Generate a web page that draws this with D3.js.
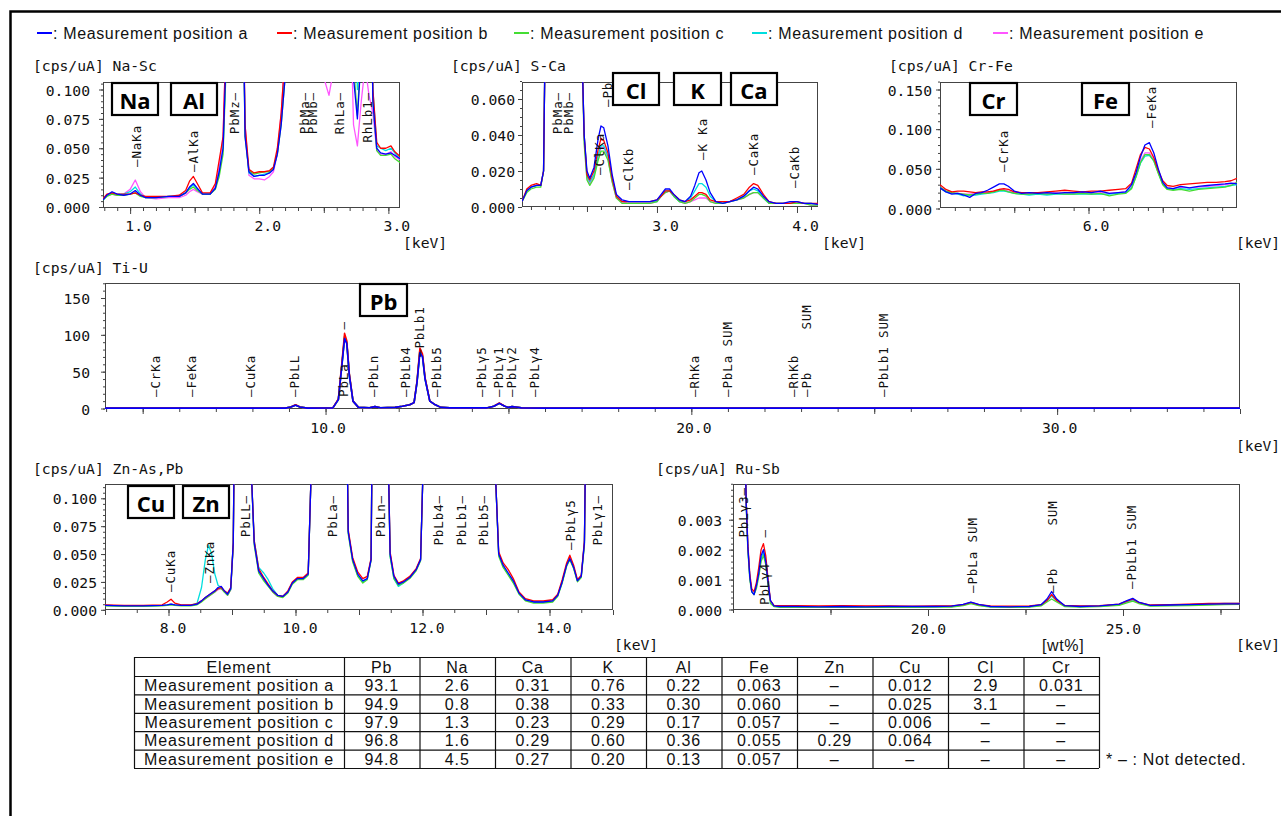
<!DOCTYPE html>
<html><head><meta charset="utf-8">
<script src="https://cdn.jsdelivr.net/npm/d3@7/dist/d3.min.js"></script>
<style>body{margin:0;background:#fff}svg{display:block}</style>
</head><body>
<svg id="c" width="1281" height="816"></svg>
<script>
// ---------------- DATA ----------------
const seriesKeys = ["a","b","c","d","e"];
const seriesLabels = ["Measurement position a","Measurement position b","Measurement position c","Measurement position d","Measurement position e"];
const seriesColors = ["#0000ff","#ff0000","#44dd33","#00dede","#ff55ff"];

// Na-Sc (keV, cps/uA)
const naX = [0.79,0.82,0.86,0.9,0.95,1.0,1.04,1.08,1.12,1.2,1.3,1.38,1.43,1.46,1.49,1.52,1.56,1.62,1.66,1.69,1.72,1.75,1.8,1.86,1.89,1.92,1.96,2.0,2.04,2.08,2.11,2.14,2.17,2.2,2.3,2.4,2.5,2.54,2.58,2.65,2.7,2.73,2.76,2.79,2.82,2.85,2.88,2.91,2.94,2.98,3.02,3.05,3.09];
const naA = [0.006,0.010,0.013,0.011,0.010,0.011,0.014,0.010,0.008,0.008,0.009,0.009,0.012,0.017,0.020,0.016,0.011,0.011,0.016,0.030,0.050,0.150,0.300,0.300,0.060,0.030,0.026,0.027,0.027,0.029,0.032,0.045,0.070,0.110,0.5,0.5,0.5,0.5,0.5,0.5,0.2,0.11,0.075,0.13,0.3,0.3,0.09,0.050,0.046,0.045,0.046,0.044,0.041];
const naB = [0.007,0.011,0.012,0.011,0.011,0.011,0.012,0.010,0.009,0.009,0.009,0.010,0.014,0.022,0.026,0.020,0.012,0.012,0.020,0.040,0.060,0.170,0.300,0.300,0.070,0.032,0.029,0.030,0.030,0.031,0.034,0.050,0.080,0.130,0.5,0.5,0.5,0.5,0.5,0.5,0.5,0.3,0.2,0.3,0.5,0.5,0.1,0.055,0.050,0.050,0.052,0.047,0.043];
const naC = [0.006,0.009,0.011,0.010,0.010,0.011,0.012,0.009,0.008,0.008,0.009,0.009,0.012,0.015,0.017,0.014,0.011,0.011,0.015,0.026,0.045,0.140,0.300,0.300,0.060,0.031,0.028,0.029,0.030,0.030,0.033,0.045,0.070,0.110,0.5,0.5,0.5,0.5,0.5,0.5,0.2,0.12,0.078,0.14,0.3,0.3,0.09,0.048,0.044,0.044,0.045,0.041,0.038];
const naD = [0.006,0.010,0.012,0.011,0.011,0.013,0.017,0.011,0.008,0.008,0.009,0.009,0.012,0.016,0.019,0.015,0.011,0.011,0.016,0.030,0.050,0.150,0.300,0.300,0.065,0.029,0.026,0.027,0.028,0.029,0.033,0.046,0.075,0.120,0.5,0.5,0.5,0.5,0.5,0.5,0.3,0.2,0.1,0.2,0.3,0.3,0.1,0.052,0.050,0.048,0.050,0.046,0.041];
const naE = [0.007,0.010,0.011,0.010,0.011,0.015,0.023,0.013,0.008,0.007,0.008,0.008,0.010,0.013,0.015,0.013,0.011,0.011,0.018,0.035,0.060,0.170,0.300,0.300,0.070,0.027,0.024,0.024,0.023,0.026,0.030,0.045,0.080,0.130,0.5,0.5,0.11,0.095,0.12,0.5,0.2,0.07,0.052,0.09,0.12,0.095,0.08,0.048,0.045,0.045,0.047,0.043,0.040];

// S-Ca
const scX = [2.036,2.07,2.1,2.14,2.17,2.19,2.21,2.3,2.4,2.46,2.48,2.5,2.52,2.55,2.58,2.6,2.62,2.65,2.68,2.71,2.75,2.8,2.85,2.9,2.95,3.0,3.03,3.06,3.09,3.12,3.16,3.2,3.24,3.27,3.3,3.32,3.35,3.38,3.42,3.47,3.52,3.57,3.62,3.66,3.69,3.72,3.76,3.8,3.85,3.9,3.95,4.0,4.05,4.1,4.15];
const scA = [0.003,0.009,0.011,0.012,0.012,0.020,0.150,0.5,0.5,0.100,0.040,0.020,0.016,0.022,0.038,0.045,0.044,0.034,0.018,0.007,0.004,0.003,0.003,0.003,0.003,0.004,0.007,0.010,0.010,0.007,0.004,0.003,0.006,0.012,0.019,0.020,0.015,0.008,0.003,0.002,0.003,0.004,0.006,0.009,0.011,0.010,0.006,0.003,0.002,0.002,0.003,0.003,0.002,0.002,0.0015];
const scB = [0.003,0.010,0.012,0.013,0.012,0.020,0.150,0.5,0.5,0.100,0.040,0.018,0.015,0.020,0.032,0.038,0.037,0.030,0.016,0.006,0.003,0.003,0.003,0.003,0.003,0.004,0.006,0.009,0.009,0.007,0.004,0.003,0.004,0.006,0.008,0.008,0.007,0.004,0.003,0.003,0.003,0.005,0.007,0.011,0.013,0.012,0.007,0.003,0.002,0.002,0.002,0.003,0.002,0.002,0.002];
const scC = [0.003,0.008,0.010,0.011,0.011,0.020,0.150,0.5,0.5,0.100,0.035,0.015,0.012,0.016,0.026,0.031,0.031,0.026,0.014,0.005,0.002,0.002,0.002,0.002,0.002,0.003,0.006,0.008,0.009,0.006,0.003,0.002,0.003,0.005,0.007,0.007,0.006,0.003,0.002,0.002,0.003,0.004,0.005,0.007,0.008,0.008,0.005,0.002,0.002,0.002,0.002,0.002,0.002,0.001,0.001];
const scD = [0.003,0.009,0.011,0.012,0.012,0.020,0.150,0.5,0.5,0.100,0.040,0.017,0.014,0.018,0.029,0.034,0.034,0.028,0.015,0.006,0.003,0.003,0.003,0.003,0.003,0.003,0.006,0.009,0.009,0.006,0.003,0.003,0.005,0.009,0.013,0.013,0.011,0.006,0.003,0.002,0.003,0.004,0.006,0.009,0.010,0.009,0.005,0.002,0.002,0.002,0.002,0.002,0.002,0.002,0.0015];
const scE = [0.003,0.009,0.011,0.012,0.012,0.020,0.150,0.5,0.5,0.100,0.038,0.016,0.013,0.017,0.028,0.033,0.033,0.027,0.014,0.005,0.003,0.002,0.002,0.002,0.002,0.003,0.006,0.008,0.009,0.006,0.003,0.002,0.003,0.004,0.005,0.005,0.005,0.003,0.002,0.002,0.003,0.004,0.005,0.007,0.008,0.008,0.005,0.002,0.002,0.002,0.002,0.002,0.002,0.001,0.001];

// Cr-Fe
const cfX = [5.0,5.04,5.08,5.12,5.16,5.2,5.24,5.28,5.32,5.36,5.4,5.43,5.46,5.5,5.55,5.6,5.66,5.72,5.78,5.84,5.9,5.96,6.02,6.08,6.14,6.2,6.25,6.29,6.32,6.35,6.38,6.41,6.44,6.47,6.5,6.53,6.57,6.62,6.68,6.74,6.8,6.86,6.92,6.96,7.0];
const cfA = [0.026,0.021,0.018,0.019,0.017,0.014,0.019,0.020,0.023,0.027,0.031,0.031,0.028,0.022,0.019,0.020,0.019,0.020,0.019,0.020,0.020,0.021,0.020,0.022,0.019,0.020,0.021,0.030,0.045,0.065,0.080,0.083,0.070,0.050,0.033,0.026,0.025,0.028,0.026,0.028,0.029,0.030,0.031,0.032,0.031];
const cfB = [0.030,0.024,0.021,0.022,0.022,0.021,0.020,0.021,0.021,0.022,0.024,0.025,0.024,0.021,0.020,0.020,0.020,0.021,0.022,0.023,0.022,0.021,0.022,0.022,0.023,0.024,0.025,0.032,0.050,0.068,0.077,0.075,0.064,0.048,0.035,0.029,0.028,0.030,0.031,0.032,0.033,0.033,0.034,0.035,0.038];
const cfC = [0.027,0.022,0.020,0.019,0.018,0.017,0.018,0.019,0.019,0.021,0.023,0.023,0.021,0.019,0.018,0.018,0.019,0.018,0.019,0.018,0.018,0.019,0.018,0.019,0.016,0.018,0.019,0.025,0.040,0.058,0.068,0.068,0.060,0.044,0.030,0.024,0.023,0.024,0.022,0.024,0.025,0.026,0.027,0.029,0.033];
const cfD = [0.026,0.021,0.019,0.018,0.016,0.017,0.017,0.018,0.019,0.020,0.022,0.022,0.021,0.019,0.018,0.017,0.018,0.017,0.018,0.018,0.018,0.018,0.018,0.018,0.018,0.019,0.020,0.026,0.040,0.057,0.066,0.067,0.060,0.045,0.031,0.025,0.024,0.025,0.024,0.025,0.026,0.027,0.028,0.029,0.030];
const cfE = [0.027,0.022,0.020,0.019,0.018,0.018,0.019,0.020,0.020,0.022,0.024,0.024,0.022,0.020,0.019,0.019,0.019,0.019,0.020,0.019,0.019,0.020,0.019,0.020,0.019,0.020,0.021,0.028,0.043,0.060,0.070,0.070,0.062,0.046,0.031,0.026,0.025,0.027,0.026,0.027,0.028,0.029,0.030,0.031,0.033];

// Ti-U
const tiX = [3.97,8.9,9.05,9.18,9.3,9.5,10.2,10.35,10.45,10.52,10.58,10.65,10.75,10.9,11.2,11.35,11.5,11.9,12.1,12.3,12.42,12.5,12.58,12.65,12.72,12.85,13.0,13.15,13.4,14.4,14.6,14.75,14.9,15.0,15.1,15.2,15.35,16,35];
const tiA = [0.5,0.5,2,4.5,2,0.5,0.8,12,60,95,88,45,10,1.5,1,2.5,1,1.5,3,5,8,35,76,70,40,10,5,1.5,0.8,0.8,3,7,3,1.5,2.5,2,0.8,0.5,0.5];
const tiB = [0.5,0.5,2,5,2,0.5,0.8,13,64,102,92,47,10,1.5,1,2.5,1,1.5,3,5,8,37,82,74,42,10,5,1.5,0.8,0.8,3,7.5,3,1.5,2.5,2,0.8,0.5,0.5];
const tiC = [0.5,0.5,2,4.8,2,0.5,0.8,12,62,98,90,46,10,1.5,1,2.5,1,1.5,3,5,8,36,80,72,41,10,5,1.5,0.8,0.8,3,7,3,1.5,2.5,2,0.8,0.5,0.5];
const tiD = [0.5,0.5,2,4.6,2,0.5,0.8,12,61,96,89,45,10,1.5,1,2.5,1,1.5,3,5,8,35,78,71,40,10,5,1.5,0.8,0.8,3,7,3,1.5,2.5,2,0.8,0.5,0.5];
const tiE = [0.5,0.5,2,4.7,2,0.5,0.8,12,61,97,89,46,10,1.5,1,2.5,1,1.5,3,5,8,36,79,71,41,10,5,1.5,0.8,0.8,3,7,3,1.5,2.5,2,0.8,0.5,0.5];

// Zn-As,Pb
const znX = [7.0,7.3,7.6,7.9,7.98,8.04,8.1,8.2,8.35,8.45,8.52,8.58,8.63,8.68,8.73,8.78,8.83,8.88,8.93,8.98,9.02,9.06,9.2,9.3,9.35,9.42,9.5,9.57,9.64,9.72,9.8,9.88,9.95,10.03,10.12,10.2,10.26,10.3,10.5,10.78,10.83,10.9,10.98,11.06,11.13,11.19,11.23,11.3,11.44,11.49,11.55,11.62,11.7,11.8,11.9,11.97,12.02,12.1,12.6,13.1,13.15,13.2,13.27,13.35,13.43,13.52,13.62,13.75,13.9,14.05,14.13,14.2,14.27,14.32,14.38,14.44,14.5,14.55,14.6,14.8,15.0];
const znA = [0.004,0.0035,0.0035,0.004,0.0045,0.005,0.0045,0.004,0.004,0.005,0.008,0.011,0.013,0.015,0.017,0.020,0.021,0.017,0.014,0.019,0.060,0.300,0.300,0.130,0.060,0.035,0.028,0.022,0.017,0.013,0.012,0.016,0.024,0.028,0.028,0.032,0.150,0.300,0.300,0.300,0.070,0.045,0.032,0.026,0.028,0.045,0.300,0.300,0.200,0.050,0.030,0.023,0.025,0.029,0.036,0.045,0.150,0.300,0.300,0.300,0.120,0.050,0.040,0.033,0.026,0.015,0.009,0.007,0.007,0.008,0.013,0.025,0.040,0.046,0.038,0.026,0.030,0.060,0.300,0.300,0.300];
const znB = [0.0045,0.004,0.004,0.0045,0.007,0.0095,0.006,0.0045,0.0045,0.0055,0.008,0.011,0.013,0.015,0.017,0.019,0.020,0.017,0.015,0.020,0.060,0.300,0.300,0.130,0.062,0.037,0.029,0.023,0.017,0.013,0.012,0.017,0.025,0.029,0.029,0.033,0.150,0.300,0.300,0.300,0.072,0.047,0.034,0.028,0.030,0.046,0.300,0.300,0.200,0.052,0.031,0.024,0.026,0.030,0.037,0.046,0.150,0.300,0.300,0.300,0.120,0.052,0.042,0.036,0.028,0.016,0.010,0.008,0.008,0.009,0.014,0.027,0.042,0.049,0.040,0.027,0.031,0.062,0.300,0.300,0.300];
const znC = [0.0035,0.003,0.003,0.0035,0.004,0.0045,0.004,0.0035,0.0035,0.0045,0.007,0.010,0.012,0.014,0.016,0.019,0.019,0.016,0.013,0.018,0.058,0.300,0.300,0.130,0.058,0.033,0.026,0.021,0.016,0.012,0.011,0.015,0.023,0.027,0.027,0.031,0.150,0.300,0.300,0.300,0.068,0.043,0.030,0.024,0.027,0.044,0.300,0.300,0.200,0.048,0.028,0.022,0.024,0.028,0.035,0.044,0.150,0.300,0.300,0.300,0.120,0.048,0.038,0.031,0.024,0.014,0.008,0.006,0.006,0.007,0.012,0.024,0.039,0.045,0.037,0.025,0.029,0.058,0.300,0.300,0.300];
const znD = [0.004,0.0035,0.0035,0.004,0.0045,0.005,0.0045,0.004,0.004,0.006,0.020,0.045,0.058,0.050,0.032,0.022,0.020,0.016,0.014,0.019,0.060,0.300,0.300,0.130,0.062,0.038,0.033,0.027,0.019,0.013,0.012,0.016,0.024,0.028,0.028,0.032,0.150,0.300,0.300,0.300,0.070,0.045,0.031,0.025,0.028,0.045,0.300,0.300,0.200,0.048,0.028,0.021,0.024,0.029,0.036,0.045,0.150,0.300,0.300,0.300,0.120,0.050,0.039,0.032,0.025,0.015,0.009,0.007,0.007,0.008,0.013,0.025,0.040,0.046,0.038,0.026,0.030,0.060,0.300,0.300,0.300];
const znE = [0.004,0.0035,0.0035,0.004,0.0045,0.005,0.0045,0.004,0.004,0.005,0.008,0.010,0.012,0.014,0.016,0.018,0.019,0.016,0.013,0.018,0.058,0.300,0.300,0.130,0.060,0.034,0.027,0.022,0.016,0.012,0.012,0.016,0.024,0.028,0.028,0.032,0.150,0.300,0.300,0.300,0.070,0.044,0.031,0.025,0.028,0.045,0.300,0.300,0.200,0.050,0.029,0.022,0.025,0.029,0.036,0.045,0.150,0.300,0.300,0.300,0.120,0.050,0.039,0.032,0.025,0.015,0.009,0.007,0.007,0.008,0.013,0.025,0.040,0.046,0.038,0.026,0.030,0.060,0.300,0.300,0.300];

// Ru-Sb
const rsX = [15.0,15.2,15.3,15.34,15.38,15.43,15.48,15.54,15.6,15.66,15.72,15.78,15.84,15.9,15.96,16.05,16.2,16.6,17.2,17.8,18.4,19,19.6,20.2,20.6,20.9,21.1,21.3,21.6,22.1,22.6,22.9,23.05,23.17,23.3,23.5,23.9,24.4,24.9,25.1,25.25,25.4,25.7,26.2,26.7,27.2,27.6,28];
const rsA = [0.02,0.02,0.006,0.0035,0.0021,0.0011,0.0006,0.0005,0.0008,0.0012,0.0018,0.0020,0.0016,0.0009,0.0003,0.00012,0.0001,0.0001,0.00009,0.0001,0.00009,0.0001,0.0001,0.0001,0.00011,0.00017,0.00025,0.00017,0.0001,0.00009,0.0001,0.00016,0.00035,0.0006,0.00035,0.00013,0.0001,0.00012,0.00018,0.0003,0.00037,0.00025,0.00014,0.00015,0.00016,0.00018,0.00019,0.00019];
const rsB = [0.02,0.02,0.006,0.0036,0.0022,0.0012,0.0007,0.0006,0.0009,0.0014,0.0020,0.0022,0.0018,0.0010,0.0003,0.00014,0.00013,0.00013,0.00012,0.00013,0.00012,0.00012,0.00011,0.00012,0.00012,0.00016,0.00024,0.00016,0.00012,0.00011,0.00012,0.00016,0.0003,0.0005,0.0003,0.00014,0.00012,0.00013,0.00018,0.00028,0.00035,0.00024,0.00015,0.00016,0.00018,0.0002,0.0002,0.0002];
const rsC = [0.02,0.02,0.006,0.0034,0.002,0.001,0.0006,0.0005,0.0007,0.0011,0.0016,0.0018,0.0015,0.0008,0.0002,0.0001,0.00007,0.00007,0.00007,0.00008,0.00007,0.00008,0.00007,0.00008,0.00008,0.00013,0.0002,0.00013,0.00008,0.00007,0.00008,0.00012,0.00025,0.00035,0.00025,0.0001,0.00008,0.0001,0.00014,0.00022,0.00028,0.0002,0.00011,0.00012,0.00013,0.00015,0.00016,0.00017];
const rsD = [0.02,0.02,0.006,0.0035,0.0021,0.0011,0.0006,0.0005,0.0008,0.0012,0.0017,0.0019,0.0016,0.0009,0.0003,0.00011,0.00009,0.00009,0.00009,0.0001,0.00009,0.0001,0.00009,0.0001,0.0001,0.00015,0.00023,0.00015,0.0001,0.00009,0.0001,0.00014,0.0003,0.00045,0.0003,0.00012,0.0001,0.00011,0.00016,0.00026,0.00033,0.00023,0.00013,0.00014,0.00016,0.00018,0.0002,0.0002];
const rsE = [0.02,0.02,0.006,0.0035,0.0021,0.0011,0.0006,0.0005,0.0008,0.0012,0.0017,0.0019,0.0016,0.0009,0.0003,0.00011,0.00009,0.0001,0.00009,0.0001,0.0001,0.0001,0.00009,0.0001,0.0001,0.00015,0.00022,0.00015,0.0001,0.00009,0.0001,0.00014,0.0003,0.00045,0.0003,0.00012,0.0001,0.00011,0.00016,0.00025,0.00032,0.00022,0.00013,0.00015,0.00017,0.00019,0.0002,0.0002];

// tick labels
const naXTicks=[1,2,3], naYTicks=[0,0.025,0.05,0.075,0.1];
const scXTicks=[3,4],   scYTicks=[0,0.02,0.04,0.06];
const cfXTicks=[6],     cfYTicks=[0,0.05,0.1,0.15];
const tiXTicks=[10,20,30], tiYTicks=[0,50,100,150];
const znXTicks=[8,10,12,14], znYTicks=[0,0.025,0.05,0.075,0.1];
const rsXTicks=[20,25], rsYTicks=[0,0.001,0.002,0.003];

// peak labels: [text, keV, anchored at 'b'ottom or 't'op]
const naPeaks=[["—NaKa",1.052,"b"],["—AlKa",1.487,"b"],["PbMz—",1.812,"t"],["PbMa—",2.354,"t"],["PbMb—",2.416,"t"],["RhLa—",2.625,"t"],["RhLb1—",2.842,"t"]];
const scPeaks=[["PbMa—",2.293,"t"],["PbMb—",2.365,"t"],["—ClKa",2.593,"b"],["—Pb",2.65,"b"],["—ClKb",2.80,"b"],["—K Ka",3.322,"b"],["—CaKa",3.686,"b"],["—CaKb",3.979,"b"]];
const cfPeaks=[["—CrKa",5.425,"b"],["—FeKa",6.422,"b"]];
const tiPeaks=[["—CrKa",5.364],["—FeKa",6.348],["—CuKa",7.961],["—PbLL",9.156],["PbLa    —",10.504],["—PbLn",11.31],["—PbLb4",12.198],["—PbLb1",12.581],["—PbLb5",13.038],["—PbLγ5",14.265],["—PbLγ1",14.735],["—PbLγ2",15.096],["—PbLγ4",15.717],["—RhKa",20.1],["—PbLa SUM",21.0],["—RhKb",22.78],["—Pb     SUM",23.147],["—PbLb1 SUM",25.266]];
const znPeaks=[["—CuKa",8.029,"b"],["—ZnKa",8.651,"b"],["PbLL—",9.209,"t"],["PbLa—",10.578,"t"],["PbLn—",11.334,"t"],["PbLb4—",12.246,"t"],["PbLb1—",12.608,"t"],["PbLb5—",12.954,"t"],["—PbLγ5",14.331,"b"],["PbLγ1—",14.756,"t"]];
const rsPeaks=[["PbLγ3—",15.26,"t"],["PbLγ4   —",15.81,"b"],["—PbLa SUM",21.13,"b"],["—Pb     SUM",23.19,"b"],["—PbLb1 SUM",25.23,"b"]];

// table
const tableElements=["Pb","Na","Ca","K","Al","Fe","Zn","Cu","Cl","Cr"];
const rowA=["93.1","2.6","0.31","0.76","0.22","0.063","–","0.012","2.9","0.031"];
const rowB=["94.9","0.8","0.38","0.33","0.30","0.060","–","0.025","3.1","–"];
const rowC=["97.9","1.3","0.23","0.29","0.17","0.057","–","0.006","–","–"];
const rowD=["96.8","1.6","0.29","0.60","0.36","0.055","0.29","0.064","–","–"];
const rowE=["94.8","4.5","0.27","0.20","0.13","0.057","–","–","–","–"];

// ---------------- DRAW ----------------
const svg=d3.select("#c");
const MONO="'DejaVu Sans Mono', monospace";
const SANS="'Liberation Sans', Arial, sans-serif";
const BOLD="'Open Sans', 'Liberation Sans', sans-serif";
const SFS=16;

svg.append("rect").attr("x",10.5).attr("y",11.5).attr("width",1300).attr("height",900).attr("fill","none").attr("stroke","#000").attr("stroke-width",2.5);

function fitSpacing(str,target){
  const t=svg.append("text").attr("font-family",SANS).attr("font-size",SFS).text(str);
  const w=t.node().getComputedTextLength(); t.remove();
  return Math.max(0,(target-w)/str.length);
}
const legLS=fitSpacing(": Measurement position a",195);
const tabLS=fitSpacing("Measurement position a",190);

// legend
const legX=[37,277,514,752,993];
seriesKeys.forEach((k,i)=>{
  const g=svg.append("g").attr("transform",`translate(${legX[i]},33)`);
  g.append("line").attr("x1",0).attr("x2",15).attr("y1",0).attr("y2",0).attr("stroke",seriesColors[i]).attr("stroke-width",2);
  g.append("text").attr("x",16).attr("y",0).attr("dominant-baseline","central").attr("font-family",SANS).attr("font-size",SFS).style("letter-spacing",legLS+"px").attr("fill","#111").text(": "+seriesLabels[i]);
});

let clipN=0;
function panel(p){
  const g=svg.append("g");
  const x=d3.scaleLinear().domain(p.xDomain).range([p.left,p.right]);
  const y=d3.scaleLinear().domain([0,p.yRef]).range([p.y0,p.yRefPx]);
  const cid="clip"+(clipN++);
  svg.append("clipPath").attr("id",cid).append("rect").attr("x",p.left).attr("y",p.top).attr("width",p.right-p.left).attr("height",p.bottom-p.top);
  g.append("text").attr("x",p.titleX).attr("y",p.titleY).attr("dominant-baseline","central").attr("font-family",MONO).attr("font-size",14.7).attr("fill","#111").style("white-space","pre").text(p.title);
  g.append("rect").attr("x",p.left+0.5).attr("y",p.top+0.5).attr("width",p.right-p.left-1).attr("height",p.bottom-p.top-1).attr("fill","#fff").attr("stroke","#444").attr("stroke-width",1);
  const lg=g.append("g").attr("clip-path",`url(#${cid})`);
  [4,3,2,1,0].forEach(i=>{
    const vals=p.series[i];
    const line=d3.line().x((d,j)=>x(p.xs[j])).y(d=>y(d));
    lg.append("path").attr("d",line(vals)).attr("fill","none").attr("stroke",seriesColors[i]).attr("stroke-width",p.lw||1.3).attr("stroke-linejoin","round");
  });
  const ya=g.append("g").attr("transform",`translate(${p.left},0)`);
  ya.call(d3.axisLeft(y).tickValues(p.yMinor).tickSize(2).tickFormat(""));
  const yb=g.append("g").attr("transform",`translate(${p.left},0)`);
  yb.call(d3.axisLeft(y).tickValues(p.yTicks).tickSize(4).tickPadding(p.yGap-4).tickFormat(p.yFmt));
  const xa=g.append("g").attr("transform",`translate(0,${p.bottom})`);
  xa.call(d3.axisBottom(x).tickValues(p.xMinor).tickSize(3).tickFormat(""));
  const xm=g.append("g").attr("transform",`translate(0,${p.bottom})`);
  xm.call(d3.axisBottom(x).tickValues(p.xMed).tickSize(5).tickFormat(""));
  const xb=g.append("g").attr("transform",`translate(0,${p.bottom})`);
  xb.call(d3.axisBottom(x).tickValues(p.xTicks).tickSize(6).tickPadding(6).tickFormat(d3.format(".1f")));
  [ya,yb,xa,xm,xb].forEach(a=>{a.select(".domain").remove();a.selectAll("line").attr("stroke","#444");
    a.selectAll("text").attr("font-family",MONO).attr("font-size",14.7).attr("fill","#111");});
  xb.selectAll("text").attr("dx",p.xLabDx).attr("dy",null).attr("y",p.xLabY-p.bottom).attr("dominant-baseline","central");
  yb.selectAll("text").attr("dy",null).attr("dominant-baseline","central");
  g.append("text").attr("x",p.unitX).attr("y",p.unitY).attr("dominant-baseline","central").attr("font-family",MONO).attr("font-size",14.7).attr("fill","#111").text("[keV]");
  p.peaks.forEach(pk=>{
    const anc=pk[2]||"b";
    const yy=anc==="b"?(p.peakB[pk[0]]||p.peakBottom):p.peakTop;
    g.append("text").attr("transform",`translate(${x(pk[1])},${yy}) rotate(-90)`).attr("dy","0.36em")
     .attr("text-anchor",anc==="b"?"start":"end").attr("font-family",MONO).attr("font-size",12.5).style("letter-spacing","0.9px").attr("fill","#111").style("white-space","pre").text(pk[0]);
  });
  (p.tags||[]).forEach(t=>{
    g.append("rect").attr("x",t[1]).attr("y",t[2]).attr("width",t[3]).attr("height",32).attr("fill","#fff").attr("stroke","#000").attr("stroke-width",2.2);
    g.append("text").attr("x",t[1]+t[3]/2).attr("y",t[2]+17).attr("text-anchor","middle").attr("dominant-baseline","central").attr("font-family",BOLD).attr("font-weight","bold").attr("font-size",22).attr("fill","#000").text(t[0]);
  });
}
const f3=d3.format(".3f");
const step=(a,b,s)=>d3.range(Math.round(a/s),Math.round(b/s)+1).map(k=>+(k*s).toFixed(6));

panel({title:"[cps/uA] Na-Sc",titleX:33,titleY:65,left:103,right:400,top:82,bottom:208,
  xDomain:[0.79,3.09],yRef:0.1,y0:207,yRefPx:89.5,
  xs:naX,series:[naA,naB,naC,naD,naE],
  yTicks:naYTicks,yMinor:step(0,0.105,0.005),yFmt:f3,yGap:13,
  xTicks:naXTicks,xMed:[1.5,2.5],xMinor:step(0.8,3.0,0.1),xLabDx:8,xLabY:225,
  unitX:403,unitY:242,peaks:naPeaks,peakBottom:0,peakB:{"—NaKa":167,"—AlKa":172},peakTop:92,
  tags:[["Na",112,83,46],["Al",171,83,46]]});

panel({title:"[cps/uA] S-Ca",titleX:451,titleY:65,left:522,right:818,top:82,bottom:207,
  xDomain:[2.036,4.15],yRef:0.06,y0:207,yRefPx:99,
  xs:scX,series:[scA,scB,scC,scD,scE],
  yTicks:scYTicks,yMinor:step(0,0.069,0.005),yFmt:f3,yGap:7,
  xTicks:scXTicks,xMed:[2.5,3.5],xMinor:step(2.1,4.1,0.1),xLabDx:8,xLabY:225,
  unitX:822,unitY:242,peaks:scPeaks,peakB:{"—ClKa":175,"—Pb":107,"—ClKb":190,"—K Ka":160,"—CaKa":175,"—CaKb":188},peakTop:92,
  tags:[["Cl",613,73,46],["K",674,73,47],["Ca",731,73,46]]});

panel({title:"[cps/uA] Cr-Fe",titleX:889,titleY:65,left:940,right:1237,top:82,bottom:208,
  xDomain:[5.0,7.0],yRef:0.15,y0:208.5,yRefPx:89.5,
  xs:cfX,series:[cfA,cfB,cfC,cfD,cfE],
  yTicks:cfYTicks,yMinor:step(0,0.155,0.01),yFmt:f3,yGap:8,
  xTicks:cfXTicks,xMed:[5.5,6.5],xMinor:step(5.1,6.9,0.1),xLabDx:7,xLabY:225,
  unitX:1236,unitY:242,peaks:cfPeaks,peakB:{"—CrKa":172,"—FeKa":128},peakTop:92,
  tags:[["Cr",970,83,47],["Fe",1082,83,47]]});

panel({title:"[cps/uA] Ti-U",titleX:33,titleY:267,left:105,right:1240,top:283,bottom:409,
  xDomain:[3.97,35],yRef:150,y0:408.5,yRefPx:298,lw:1.6,
  xs:tiX,series:[tiA,tiB,tiC,tiD,tiE],
  yTicks:tiYTicks,yMinor:step(0,170,10),yFmt:d3.format("d"),yGap:15,
  xTicks:tiXTicks,xMed:[5,15,25,35],xMinor:step(4,35,1),xLabDx:2,xLabY:427,
  unitX:1236,unitY:445,peaks:tiPeaks,peakBottom:397,peakB:{"—PbLb1":357},peakTop:283,
  tags:[["Pb",360,284,47]]});

panel({title:"[cps/uA] Zn-As,Pb",titleX:33,titleY:468,left:105,right:613,top:484,bottom:610,
  xDomain:[7,15],yRef:0.1,y0:609.8,yRefPx:498.3,
  xs:znX,series:[znA,znB,znC,znD,znE],
  yTicks:znYTicks,yMinor:step(0,0.11,0.005),yFmt:f3,yGap:8,
  xTicks:znXTicks,xMed:[7,9,11,13,15],xMinor:step(7,15,0.5),xLabDx:4,xLabY:627,
  unitX:614,unitY:644,peaks:znPeaks,peakB:{"—CuKa":592,"—ZnKa":583,"—PbLγ5":550},peakTop:495,
  tags:[["Cu",128,486,46],["Zn",183,486,46]]});

panel({title:"[cps/uA] Ru-Sb",titleX:656,titleY:468,left:733,right:1240,top:484,bottom:610,
  xDomain:[15,28],yRef:0.003,y0:609.5,yRefPx:519.7,
  xs:rsX,series:[rsA,rsB,rsC,rsD,rsE],
  yTicks:rsYTicks,yMinor:step(0,0.0041,0.0002),yFmt:f3,yGap:11,
  xTicks:rsXTicks,xMed:[17.5,22.5,27.5],xMinor:step(15,28,2.5),xLabDx:0,xLabY:628,
  unitX:1236,unitY:644,peaks:rsPeaks,peakB:{"PbLγ4   —":605,"—PbLa SUM":593,"—Pb     SUM":593,"—PbLb1 SUM":589},peakTop:487,
  tags:[]});

// [wt%]
svg.append("text").attr("x",1042).attr("y",645).attr("dominant-baseline","central").attr("font-family",SANS).attr("font-size",SFS).style("letter-spacing",legLS+"px").attr("fill","#111").text("[wt%]");

// table
const rows=[["Element"].concat(tableElements)].concat([rowA,rowB,rowC,rowD,rowE].map((r,i)=>[seriesLabels[i]].concat(r)));
const colX=[134,344];
for(let i=1;i<=10;i++) colX.push(344+i*75.5);
const rowY=[657,676,694.4,712.8,731.2,749.6,768];
const tg=svg.append("g");
rows.forEach((r,ri)=>{
  r.forEach((c,ci)=>{
    tg.append("text").attr("x",(colX[ci]+colX[ci+1])/2).attr("y",(rowY[ri]+rowY[ri+1])/2+0.5).attr("text-anchor","middle").attr("dominant-baseline","central")
      .attr("font-family",SANS).attr("font-size",SFS).style("letter-spacing",tabLS+"px").attr("fill","#111").text(c);
  });
});
rowY.forEach(yv=>tg.append("line").attr("x1",colX[0]).attr("x2",colX[11]).attr("y1",yv+0.5).attr("y2",yv+0.5).attr("stroke","#111").attr("stroke-width",1.2));
colX.forEach(xv=>tg.append("line").attr("x1",xv+0.5).attr("x2",xv+0.5).attr("y1",rowY[0]).attr("y2",rowY[6]).attr("stroke","#111").attr("stroke-width",1.2));
svg.append("text").attr("x",1106).attr("y",759).attr("dominant-baseline","central").attr("font-family",SANS).attr("font-size",SFS).style("letter-spacing",legLS+"px").attr("fill","#111").text("* – : Not detected.");
</script>
</body></html>
